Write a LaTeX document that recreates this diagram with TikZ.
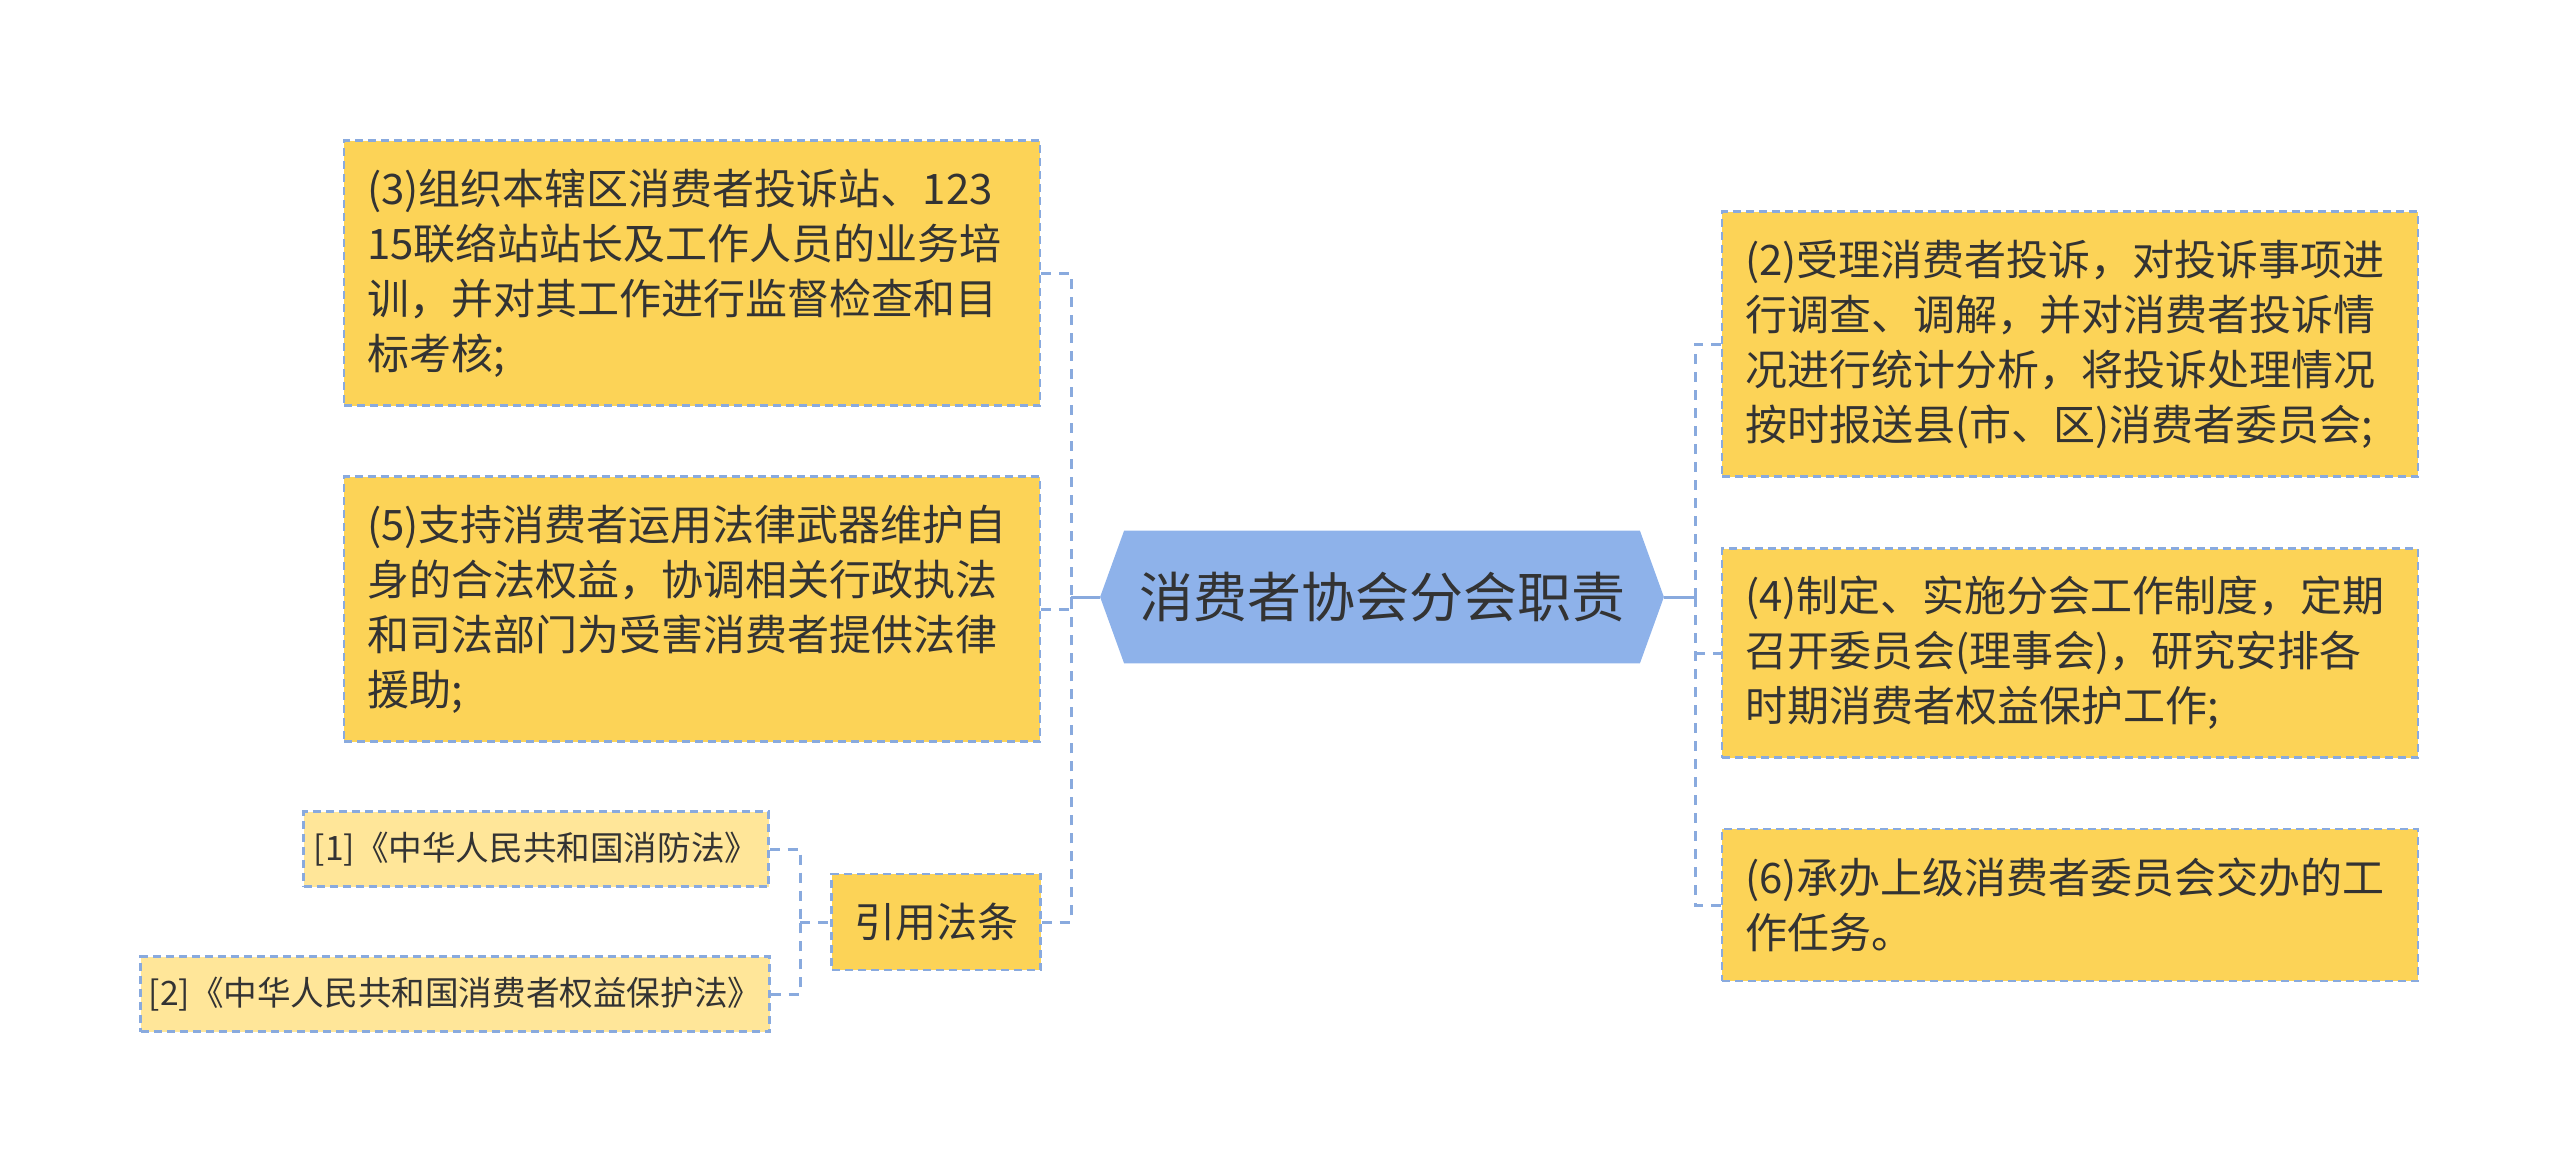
\documentclass[tikz,border=0pt]{standalone}
\usepackage{fontspec}
\setmainfont{Noto Sans CJK SC}
\usepackage{tikz}
\pgfdeclarelayer{background}
\pgfsetlayers{background,main}
\definecolor{dutyyellow}{RGB}{252,211,87}
\definecolor{lawyellow}{RGB}{255,230,153}
\definecolor{linkblue}{RGB}{137,170,222}
\definecolor{rootblue}{RGB}{142,178,234}
\definecolor{inkgray}{RGB}{51,51,51}

\begin{document}
\begin{tikzpicture}[x=0.5pt,y=-0.5pt,
  every node/.style={text=inkgray},
  duty/.style={draw=linkblue, line width=1.2pt, dash pattern=on 4pt off 2.5pt,
    fill=dutyyellow, align=left, inner xsep=11.5pt, inner ysep=0pt,
    text width=325pt, font=\fontsize{21pt}{27.5pt}\selectfont},
  law/.style={draw=linkblue, line width=1.2pt, dash pattern=on 4pt off 2.5pt,
    fill=lawyellow, align=center, inner sep=0pt, minimum height=37.5pt,
    font=\fontsize{16.8pt}{22pt}\selectfont},
  cite/.style={draw=linkblue, line width=1.2pt, dash pattern=on 4pt off 2.5pt,
    fill=dutyyellow, align=center, inner sep=0pt,
    minimum width=104.5pt, minimum height=48pt,
    font=\fontsize{20.5pt}{26pt}\selectfont},
  root/.style={inner sep=0pt, minimum width=281.5pt, minimum height=66pt,
    font=\fontsize{27pt}{32pt}\selectfont},
  trunk/.style={draw=linkblue, line width=1.5pt},
  link/.style={draw=linkblue, line width=1.5pt, dash pattern=on 5pt off 4pt},
]
\useasboundingbox (0,0) rectangle (2560,1173);

\node[root] at (1382,597) (root) {消费者协会分会职责};

\node[duty, minimum height=132.5pt] at (692,273) (n3)
  {(3)组织本辖区消费者投诉站、123\\15联络站站长及工作人员的业务培\\训，并对其工作进行监督检查和目\\标考核;};
\node[duty, minimum height=132.5pt] at (692,609) (n5)
  {(5)支持消费者运用法律武器维护自\\身的合法权益，协调相关行政执法\\和司法部门为受害消费者提供法律\\援助;};
\node[cite] at (936,922) (laws) {引用法条};
\node[law, minimum width=232.5pt] at (536,849) (law1) {[1]《中华人民共和国消防法》};
\node[law, minimum width=314.5pt] at (455,994) (law2) {[2]《中华人民共和国消费者权益保护法》};

\node[duty, minimum height=132.5pt] at (2070,344) (n2)
  {(2)受理消费者投诉，对投诉事项进\\行调查、调解，并对消费者投诉情\\况进行统计分析，将投诉处理情况\\按时报送县(市、区)消费者委员会;};
\node[duty, minimum height=104.5pt] at (2070,653) (n4)
  {(4)制定、实施分会工作制度，定期\\召开委员会(理事会)，研究安排各\\时期消费者权益保护工作;};
\node[duty, minimum height=76pt] at (2070,905) (n6)
  {(6)承办上级消费者委员会交办的工\\作任务。};

\coordinate (lhub) at (1071,597);
\coordinate (rhub) at (1695,597);
\coordinate (chub) at (800,922);

\begin{pgfonlayer}{background}
\fill[rootblue] (root.west) -- ([xshift=12pt]root.north west)
  -- ([xshift=-12pt]root.north east) -- (root.east)
  -- ([xshift=-12pt]root.south east) -- ([xshift=12pt]root.south west) -- cycle;
\draw[trunk] (root.west) -- (lhub);
\draw[trunk] (root.east) -- (rhub);
\draw[link] (n3.east) -| (lhub);
\draw[link] (laws.east) -| (lhub);
\draw[link] (n5.east) -| (lhub);
\draw[link] (n2.west) -| (rhub);
\draw[link] (n6.west) -| (rhub);
\draw[link] (rhub |- n4.west) -- (n4.west);
\draw[link] (law1.east) -| (chub);
\draw[link] (law2.east) -| (chub);
\draw[link] (chub) -- (laws.west);
\end{pgfonlayer}
\end{tikzpicture}
\end{document}
